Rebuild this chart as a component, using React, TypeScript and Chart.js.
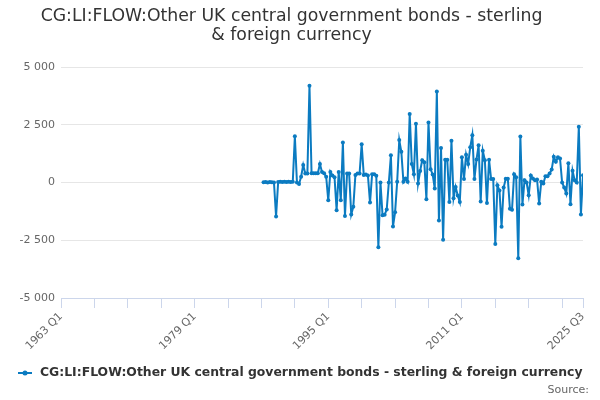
import { useEffect, useRef } from "react";
import { Chart, registerables } from "chart.js";

Chart.register(...registerables);

const seriesName = "CG:LI:FLOW:Other UK central government bonds - sterling & foreign currency";
const firstQuarter = "1987 Q2";
const axisStart = "1963 Q1";
const axisEnd = "2025 Q3";
const tickLabels = ["1963 Q1", "1979 Q1", "1995 Q1", "2011 Q1", "2025 Q3"];
const yTicks = [-5000, -2500, 0, 2500, 5000];

// quarterly flow, £ million, 1987 Q2 .. 2025 Q3
const flow = [
  10, 20, 0, 20, 10, 0, -1470, 20, 30, 20, 30, 20, 30, 20, 30, 2000, 0, -60, 250, 760, 390, 390, 4190,
  400, 400, 400, 400, 800, 460, 400, 250, -770, 460, 300, 230, -1200, 460, -770, 1730, -1450, 390, 390,
  -1380, -1050, 330, 390, 390, 1660, 330, 350, 300, -870, 360, 360, 290, -2800, 0, -1420, -1390, -1170,
  0, 1180, -1900, -1290, 30, 1840, 1330, 30, 170, 30,
  2970, 800, 360, 2540, -40, 500, 970, 880, -720, 2600, 580, 350, -260, 3940, -1640, 1500, -2480, 990,
  990, -840, 1810, -680, -190, -560, -840, 1090, 150, 1200, 800, 1530, 2050,
  150, 1000, 1610, -820, 1380, 970, -890, 990, 150, 150, -2660, -120, -350, -1910, -220, 160, 160,
  -1130, -1180, 360, 230, -3280, 1990, -950, 100, 0, -550, 300,
  170, 100, 130, -910, 30, -40, 275, 275, 390, 560, 1120, 900, 1090, 1040, 0, -220, -480, 830, -940,
  510, 100, 0, 2420, -1380, 320,
];

const BLUE = "#0b7bc1";
const FONT = "DejaVu Sans";

const qIndex = (s: string) => {
  const [y, q] = s.split(" Q");
  return (Number(y) - 1963) * 4 + Number(q) - 1;
};

const fmt = (v: number) => {
  const a = Math.abs(v);
  const s = a >= 1000 ? Math.floor(a / 1000) + " " + String(a % 1000).padStart(3, "0") : String(a);
  return v < 0 ? "-" + s : s;
};

// legend + source line drawn by hand, highcharts style
const footerPlugin = {
  id: "footer",
  afterDraw(chart: Chart) {
    const ctx = chart.ctx;
    ctx.save();
    ctx.strokeStyle = BLUE;
    ctx.fillStyle = BLUE;
    ctx.lineWidth = 2;
    ctx.beginPath();
    ctx.moveTo(18, 373);
    ctx.lineTo(32, 373);
    ctx.stroke();
    ctx.beginPath();
    ctx.arc(25, 373, 2.5, 0, Math.PI * 2);
    ctx.fill();

    ctx.font = `bold 12.4px '${FONT}'`;
    ctx.fillStyle = "#333333";
    ctx.textBaseline = "middle";
    ctx.textAlign = "left";
    ctx.fillText(String(chart.data.datasets[0].label), 40, 373);

    ctx.font = `11px '${FONT}'`;
    ctx.fillStyle = "#666666";
    ctx.textAlign = "right";
    ctx.fillText("Source:", 589, 390);
    ctx.restore();
  },
};

export default function App() {
  const ref = useRef<HTMLCanvasElement>(null);

  useEffect(() => {
    document.body.style.margin = "0";
    const start = qIndex(firstQuarter);
    const lo = qIndex(axisStart);
    const hi = qIndex(axisEnd);
    const labelAt = new Map(tickLabels.map((t) => [qIndex(t), t]));

    const chart = new Chart(ref.current!, {
      type: "line",
      data: {
        datasets: [
          {
            label: seriesName,
            data: flow.map((v, k) => ({ x: start + k, y: v })),
            borderColor: BLUE,
            backgroundColor: BLUE,
            borderWidth: 2,
            pointRadius: 2,
            pointBorderWidth: 0,
            pointBackgroundColor: BLUE,
            tension: 0,
          },
        ],
      },
      options: {
        animation: false,
        responsive: true,
        maintainAspectRatio: false,
        layout: { padding: { top: 4, left: 0, right: 17, bottom: 40 } },
        plugins: {
          title: {
            display: true,
            text: ["CG:LI:FLOW:Other UK central government bonds - sterling", "& foreign currency"],
            color: "#333333",
            font: { family: FONT, size: 17.3, weight: "normal", lineHeight: 1.1 },
            padding: { top: 3, bottom: 22 },
          },
          legend: { display: false },
          tooltip: { enabled: false },
        },
        scales: {
          x: {
            type: "linear",
            min: lo,
            max: hi,
            afterBuildTicks: (scale) => {
              const ticks = [];
              for (let v = lo; v < hi; v += 16) ticks.push({ value: v });
              ticks.push({ value: hi });
              scale.ticks = ticks;
            },
            afterFit: (scale) => {
              scale.height = 62;
            },
            grid: { drawOnChartArea: false, drawTicks: true, tickLength: 10, color: "#ccd6eb" },
            border: { display: true, color: "#ccd6eb" },
            ticks: {
              autoSkip: false,
              maxRotation: 45,
              minRotation: 45,
              padding: 2,
              color: "#666666",
              font: { family: FONT, size: 11 },
              callback: (v) => labelAt.get(Number(v)) ?? "",
            },
          },
          y: {
            min: -5000,
            max: 5000,
            afterBuildTicks: (scale) => {
              scale.ticks = yTicks.map((v) => ({ value: v }));
            },
            afterFit: (scale) => {
              scale.width = 61;
            },
            grid: { color: "#e6e6e6", drawTicks: false },
            border: { display: false },
            ticks: {
              padding: 6,
              color: "#666666",
              font: { family: FONT, size: 11 },
              callback: (v) => fmt(Number(v)),
            },
          },
        },
      },
      plugins: [footerPlugin],
    });
    return () => chart.destroy();
  }, []);

  return (
    <div style={{ width: 600, height: 400, position: "relative", background: "#fff" }}>
      <canvas ref={ref} />
    </div>
  );
}
